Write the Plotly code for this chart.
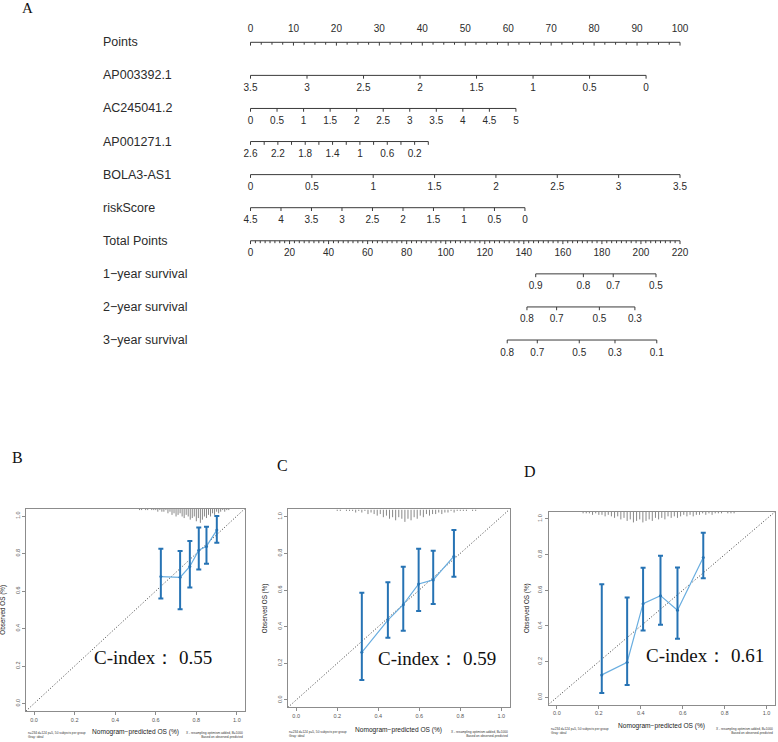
import numpy as np
import plotly.graph_objects as go

W, H = 778, 742

# ---------------- Nomogram data ----------------
row_labels = ["Points", "AP003392.1", "AC245041.2", "AP001271.1", "BOLA3-AS1",
              "riskScore", "Total Points", "1\u2212year survival", "2\u2212year survival",
              "3\u2212year survival"]

points_major = [0, 10, 20, 30, 40, 50, 60, 70, 80, 90, 100]
points_minor_step = 2.5

ap003392_ticks = [3.5, 3, 2.5, 2, 1.5, 1, 0.5, 0]
ap003392_ends = (3.5, 0.0)      # value at 0 points, value at max points
ap003392_maxpts = 92.1

ac245041_ticks = [0, 0.5, 1, 1.5, 2, 2.5, 3, 3.5, 4, 4.5, 5]
ac245041_ends = (0.0, 5.0)
ac245041_maxpts = 61.8

ap001271_ticks = [2.6, 2.4, 2.2, 2.0, 1.8, 1.6, 1.4, 1.2, 1.0, 0.8, 0.6, 0.4, 0.2, 0.0]
ap001271_labels = [2.6, 2.2, 1.8, 1.4, 1, 0.6, 0.2]
ap001271_ends = (2.6, 0.0)
ap001271_maxpts = 41.4

bola3_ticks = [0, 0.5, 1, 1.5, 2, 2.5, 3, 3.5]
bola3_ends = (0.0, 3.5)
bola3_maxpts = 100.0

risk_ticks = [4.5, 4, 3.5, 3, 2.5, 2, 1.5, 1, 0.5, 0]
risk_ends = (4.5, 0.0)
risk_maxpts = 63.9

total_major = [0, 20, 40, 60, 80, 100, 120, 140, 160, 180, 200, 220]
total_minor_step = 2.5
total_max = 220.0

surv1_labels = [0.9, 0.8, 0.7, 0.5]
surv1_total = [146.1, 170.5, 185.8, 207.7]
surv2_labels = [0.8, 0.7, 0.5, 0.3]
surv2_total = [141.6, 156.8, 178.7, 196.9]
surv3_labels = [0.8, 0.7, 0.5, 0.3, 0.1]
surv3_total = [131.5, 146.9, 168.4, 186.7, 208.1]

# ---------------- Calibration data ----------------
B_pred = [0.625, 0.720, 0.768, 0.812, 0.850, 0.901]
B_obs = [0.677, 0.673, 0.731, 0.817, 0.838, 0.925]
B_lo = [0.560, 0.503, 0.619, 0.715, 0.745, 0.858]
B_hi = [0.826, 0.813, 0.867, 0.939, 0.943, 1.000]
B_rug_start, B_rug_step = 0.52, 0.01
B_rug_n = [1, 1, 0, 1, 1, 0, 1, 1, 1, 2, 1, 2, 2, 1, 3, 2, 4, 3, 5, 4, 3, 5, 6,
           4, 5, 7, 6, 5, 8, 6, 9, 7, 5, 6, 4, 5, 3, 4, 2, 3, 2, 1, 2, 1, 1]
B_cindex = "C-index\uff1a 0.55"

C_pred = [0.320, 0.447, 0.522, 0.597, 0.668, 0.769]
C_obs = [0.260, 0.436, 0.520, 0.633, 0.655, 0.785]
C_lo = [0.109, 0.340, 0.378, 0.485, 0.524, 0.673]
C_hi = [0.585, 0.642, 0.727, 0.825, 0.815, 0.927]
C_rug_start, C_rug_step = 0.20, 0.015
C_rug_n = [1, 1, 0, 1, 1, 1, 2, 1, 2, 1, 3, 2, 3, 4, 3, 5, 4, 6, 5, 7, 5, 6, 8,
           6, 7, 5, 6, 4, 5, 3, 4, 3, 3, 2, 3, 2, 2, 1, 2, 1, 1, 1, 1, 0, 1, 1]
C_cindex = "C-index\uff1a 0.59"

D_pred = [0.214, 0.335, 0.411, 0.494, 0.575, 0.698]
D_obs = [0.126, 0.197, 0.525, 0.570, 0.488, 0.784]
D_lo = [0.024, 0.069, 0.375, 0.407, 0.328, 0.668]
D_hi = [0.634, 0.559, 0.726, 0.794, 0.728, 0.923]
D_rug_start, D_rug_step = 0.125, 0.015
D_rug_n = [1, 1, 1, 2, 1, 2, 2, 3, 2, 3, 4, 3, 5, 4, 6, 5, 7, 6, 5, 7, 6, 5, 6,
           4, 5, 4, 5, 3, 4, 3, 4, 3, 2, 3, 2, 3, 2, 2, 1, 2, 1, 2, 1, 1, 1, 0, 1, 1, 1]
D_cindex = "C-index\uff1a 0.61"

# ---------------- Figure ----------------
fig = go.Figure()
SANS = "Arial, Liberation Sans, Helvetica, sans-serif"
SERIF = "Times New Roman, Liberation Serif, serif"
LINE_C = "#3a3a3a"
TXT_C = "#2b2b2b"

# nomogram coordinate system: x in "points" units, y in row units
PX0, PX_PER_PT = 250.5, 4.295
ROW0_PX, ROW_PX = 42.3, 33.08
NOMO_BOTTOM_PX = 400
x_lo = (0 - PX0) / PX_PER_PT
x_hi = (W - PX0) / PX_PER_PT
y_top = (0 - ROW0_PX) / ROW_PX
y_bot = (NOMO_BOTTOM_PX - ROW0_PX) / ROW_PX
TICK_MAJ = 3.3 / ROW_PX
TICK_MIN = 2.4 / ROW_PX
LBL_OFF = 13.0 / ROW_PX


def fmt(v):
    return f"{v:g}"


def to_pts(v, ends, maxpts):
    a, b = ends
    return maxpts * (v - a) / (b - a)


def add_scale(row, major_pos, major_lbl, minor_pos=None, above=False, label_pos=None):
    xs_all = list(major_pos) + (list(minor_pos) if minor_pos is not None else [])
    lo, hi = min(xs_all), max(xs_all)
    lx, ly = [lo, hi, None], [row, row, None]
    for p in major_pos:
        lx += [p, p, None]
        ly += [row, row + TICK_MAJ, None]
    if minor_pos is not None:
        for p in minor_pos:
            lx += [p, p, None]
            ly += [row, row + TICK_MIN, None]
    fig.add_trace(go.Scatter(x=lx, y=ly, mode="lines", line=dict(color=LINE_C, width=1),
                             hoverinfo="skip", showlegend=False, xaxis="x", yaxis="y"))
    lp = major_pos if label_pos is None else label_pos
    fig.add_trace(go.Scatter(x=lp, y=[row + (-LBL_OFF if above else LBL_OFF)] * len(lp),
                             mode="text", text=[fmt(v) for v in major_lbl],
                             textfont=dict(family=SANS, size=10, color=TXT_C),
                             hoverinfo="skip", showlegend=False, xaxis="x", yaxis="y"))


# Points row
pts_minor = [p for p in np.arange(0, 100 + 1e-9, points_minor_step) if p not in points_major]
add_scale(0, points_major, points_major, pts_minor, above=True)
# variables
add_scale(1, [to_pts(v, ap003392_ends, ap003392_maxpts) for v in ap003392_ticks], ap003392_ticks)
add_scale(2, [to_pts(v, ac245041_ends, ac245041_maxpts) for v in ac245041_ticks], ac245041_ticks)
add_scale(3, [to_pts(v, ap001271_ends, ap001271_maxpts) for v in ap001271_ticks], ap001271_labels,
          label_pos=[to_pts(v, ap001271_ends, ap001271_maxpts) for v in ap001271_labels])
add_scale(4, [to_pts(v, bola3_ends, bola3_maxpts) for v in bola3_ticks], bola3_ticks)
add_scale(5, [to_pts(v, risk_ends, risk_maxpts) for v in risk_ticks], risk_ticks)
# total points
tot2pts = lambda t: t * 100.0 / total_max
tot_minor = [tot2pts(t) for t in np.arange(0, total_max + 1e-9, total_minor_step) if t not in total_major]
add_scale(6, [tot2pts(t) for t in total_major], total_major, tot_minor)
add_scale(7, [tot2pts(t) for t in surv1_total], surv1_labels)
add_scale(8, [tot2pts(t) for t in surv2_total], surv2_labels)
add_scale(9, [tot2pts(t) for t in surv3_total], surv3_labels)

annotations = []
for i, name in enumerate(row_labels):
    annotations.append(dict(x=(101 - PX0) / PX_PER_PT, y=i, xref="x", yref="y", text=name,
                            showarrow=False, xanchor="left", yanchor="middle",
                            font=dict(family=SANS, size=12.5, color=TXT_C)))


def px_x(p):
    return p / W


def px_y(p):
    return 1 - p / H


# panel letters
for letter, cx, cy, sz in [("A", 27, 8, 15), ("B", 17, 457, 16), ("C", 282.5, 466, 16), ("D", 530, 471.5, 16)]:
    annotations.append(dict(x=px_x(cx), y=px_y(cy), xref="paper", yref="paper", text=letter,
                            showarrow=False, xanchor="center", yanchor="middle",
                            font=dict(family=SERIF, size=sz, color="#111")))

panels = [
    dict(n=2, fx=(26, 245), fy=(508.5, 711), pred=B_pred, obs=B_obs, lo=B_lo, hi=B_hi,
         rs=B_rug_start, rstep=B_rug_step, rn=B_rug_n, ci=B_cindex, ci_xy=(0.588, 0.246),
         xt=(135.5, 732.3), yt=(3, 609.7), foot=(26, 245, 735)),
    dict(n=3, fx=(288, 509.5), fy=(509.4, 707.3), pred=C_pred, obs=C_obs, lo=C_lo, hi=C_hi,
         rs=C_rug_start, rstep=C_rug_step, rn=C_rug_n, ci=C_cindex, ci_xy=(0.686, 0.227),
         xt=(398.7, 730), yt=(265, 608.3), foot=(287, 510, 734)),
    dict(n=4, fx=(548.5, 775), fy=(511.8, 704.5), pred=D_pred, obs=D_obs, lo=D_lo, hi=D_hi,
         rs=D_rug_start, rstep=D_rug_step, rn=D_rug_n, ci=D_cindex, ci_xy=(0.706, 0.235),
         xt=(661.7, 726), yt=(527, 608.1), foot=(548.5, 775, 730.5)),
]

BAR_C = "#2673b4"
LINE_LB = "#6aaee0"
axes_layout = {}
for pn in panels:
    n = pn["n"]
    xa, ya = f"x{n}", f"y{n}"
    # rug of predictions hanging from the top
    rx, ry = [], []
    for k, c in enumerate(pn["rn"]):
        if c <= 0:
            continue
        xv = pn["rs"] + k * pn["rstep"]
        rx += [xv, xv, None]
        ry += [1.04, 1.04 - 0.0085 * c, None]
    fig.add_trace(go.Scatter(x=rx, y=ry, mode="lines", line=dict(color="#7a7a7a", width=0.9),
                             hoverinfo="skip", showlegend=False, xaxis=xa, yaxis=ya))
    # ideal line
    fig.add_trace(go.Scatter(x=[-0.04, 1.04], y=[-0.04, 1.04], mode="lines",
                             line=dict(color="#3a3a3a", width=1, dash="1px,2px"),
                             hoverinfo="skip", showlegend=False, xaxis=xa, yaxis=ya))
    # calibration line
    fig.add_trace(go.Scatter(x=pn["pred"], y=pn["obs"], mode="lines",
                             line=dict(color=LINE_LB, width=1.2),
                             hoverinfo="skip", showlegend=False, xaxis=xa, yaxis=ya))
    # observed with error bars
    obs = np.array(pn["obs"])
    fig.add_trace(go.Scatter(x=pn["pred"], y=pn["obs"], mode="markers",
                             marker=dict(color=BAR_C, size=3),
                             error_y=dict(type="data", symmetric=False,
                                          array=np.array(pn["hi"]) - obs,
                                          arrayminus=obs - np.array(pn["lo"]),
                                          color=BAR_C, thickness=2, width=2.5),
                             hoverinfo="skip", showlegend=False, xaxis=xa, yaxis=ya))
    dom_x = [px_x(pn["fx"][0]), px_x(pn["fx"][1])]
    dom_y = [px_y(pn["fy"][1]), px_y(pn["fy"][0])]
    common = dict(range=[-0.04, 1.04], showline=True, mirror=True, linecolor="#8c8c8c",
                  linewidth=1, ticks="outside", ticklen=3, tickcolor="#8c8c8c", tickwidth=1,
                  tickvals=[0, 0.2, 0.4, 0.6, 0.8, 1.0], tickformat=".1f",
                  tickfont=dict(family=SANS, size=5.5, color="#555"),
                  showgrid=False, zeroline=False, fixedrange=True)
    axes_layout[f"xaxis{n}"] = dict(domain=dom_x, anchor=ya, **common)
    axes_layout[f"yaxis{n}"] = dict(domain=dom_y, anchor=xa, tickangle=-90, **common)
    annotations.append(dict(x=pn["ci_xy"][0], y=pn["ci_xy"][1], xref=xa, yref=ya, text=pn["ci"],
                            showarrow=False, xanchor="center", yanchor="middle",
                            font=dict(family=SERIF, size=19, color="#111")))
    annotations.append(dict(x=px_x(pn["xt"][0]), y=px_y(pn["xt"][1]), xref="paper", yref="paper",
                            text="Nomogram\u2212predicted OS (%)", showarrow=False,
                            xanchor="center", yanchor="middle",
                            font=dict(family=SANS, size=6.6, color="#222")))
    annotations.append(dict(x=px_x(pn["yt"][0]), y=px_y(pn["yt"][1]), xref="paper", yref="paper",
                            text="Observed OS (%)", showarrow=False, textangle=-90,
                            xanchor="center", yanchor="middle",
                            font=dict(family=SANS, size=6.3, color="#222")))
    fl, fr, fy = pn["foot"]
    annotations.append(dict(x=px_x(fl), y=px_y(fy), xref="paper", yref="paper",
                            text="n=234 d=124 p=5, 50 subjects per group<br>Gray: ideal",
                            showarrow=False, xanchor="left", yanchor="middle", align="left",
                            font=dict(family=SANS, size=3.2, color="#333")))
    annotations.append(dict(x=px_x(fr), y=px_y(fy), xref="paper", yref="paper",
                            text="X - resampling optimism added, B=1000<br>Based on observed-predicted",
                            showarrow=False, xanchor="right", yanchor="middle", align="right",
                            font=dict(family=SANS, size=3.2, color="#333")))

fig.update_layout(
    width=W, height=H, autosize=False,
    margin=dict(l=0, r=0, t=0, b=0),
    paper_bgcolor="white", plot_bgcolor="rgba(0,0,0,0)",
    xaxis=dict(domain=[0, 1], range=[x_lo, x_hi], visible=False, fixedrange=True),
    yaxis=dict(domain=[px_y(NOMO_BOTTOM_PX), 1], range=[y_bot, y_top], visible=False,
               fixedrange=True),
    annotations=annotations,
    showlegend=False,
    hovermode=False,
    **axes_layout,
)

fig.write_html("out.html", config={"displayModeBar": False, "staticPlot": True},
               post_script="document.body.style.margin='0px';document.body.style.padding='0px';")
